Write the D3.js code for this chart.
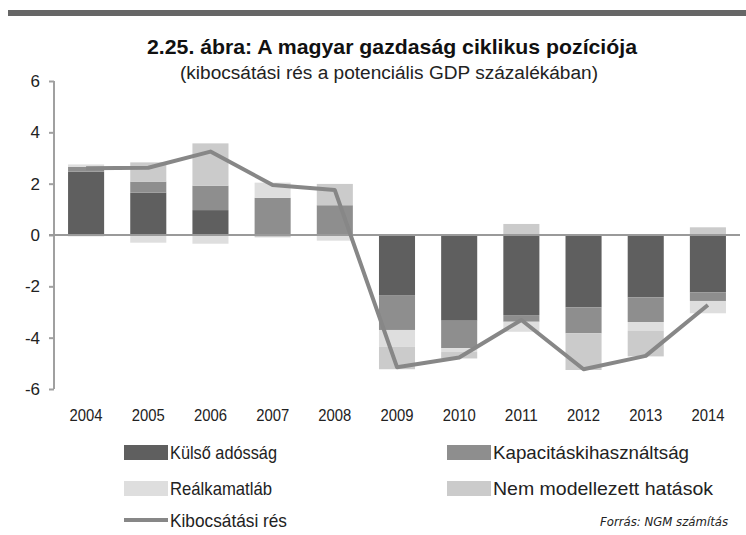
<!DOCTYPE html>
<html>
<head>
<meta charset="utf-8">
<script src="https://cdn.jsdelivr.net/npm/d3@7"></script>
<style>
  html, body { margin: 0; padding: 0; background: #fff; }
  svg { display: block; font-family: "Liberation Sans", Arial, sans-serif; }
</style>
</head>
<body>
<svg id="chart" width="746" height="535"></svg>
<script>
const years = ["2004","2005","2006","2007","2008","2009","2010","2011","2012","2013","2014"];
const kulsoAdossag   = [2.47, 1.65, 0.97, 0.00, 0.00, -2.34, -3.34, -3.12, -2.82, -2.43, -2.23];
const kapacitas      = [0.18, 0.43, 0.95, 1.45, 1.16, -1.36, -1.07, -0.26, -1.01, -0.96, -0.34];
const realkamat      = [0.10, -0.30, -0.34, 0.59, -0.22, -0.65, -0.15, -0.39, 0.00, -0.34, -0.48];
const nemModellezett = [-0.05, 0.75, 1.65, -0.09, 0.83, -0.88, -0.25, 0.43, -1.43, -1.00, 0.30];
const kibocsatasiRes = [2.60, 2.62, 3.25, 1.95, 1.75, -5.15, -4.77, -3.31, -5.23, -4.71, -2.73];
const yTicks = [6, 4, 2, 0, -2, -4, -6];

const seriesNames = ["Külső adósság", "Kapacitáskihasználtság", "Reálkamatláb", "Nem modellezett hatások"];
const seriesValues = [kulsoAdossag, kapacitas, realkamat, nemModellezett];
const seriesColors = ["#5f5f5f", "#8e8e8e", "#dedede", "#cbcbcb"];
const lineName = "Kibocsátási rés";
const lineColor = "#878787";

const svg = d3.select("#chart");

// top rule
svg.append("rect").attr("x", 8).attr("y", 10).attr("width", 738).attr("height", 6).attr("fill", "#666");

// titles
svg.append("text").attr("x", 392).attr("y", 54).attr("text-anchor", "middle")
  .attr("font-weight", "bold").attr("font-size", 21).attr("fill", "#111")
  .attr("textLength", 490).attr("lengthAdjust", "spacingAndGlyphs")
  .text("2.25. ábra: A magyar gazdaság ciklikus pozíciója");
svg.append("text").attr("x", 389).attr("y", 79).attr("text-anchor", "middle")
  .attr("font-size", 18).attr("fill", "#222")
  .attr("textLength", 418).attr("lengthAdjust", "spacingAndGlyphs")
  .text("(kibocsátási rés a potenciális GDP százalékában)");

const x = d3.scaleBand().domain(years).range([55, 739]).paddingInner(0.42).paddingOuter(0.21);
const y = d3.scaleLinear().domain([-6, 6]).range([389, 81]);

const rows = years.map((yr, i) => {
  const r = { year: yr };
  seriesNames.forEach((n, k) => r[n] = seriesValues[k][i]);
  return r;
});
const stack = d3.stack().keys(seriesNames).offset(d3.stackOffsetDiverging);
const stacked = stack(rows);

const gBars = svg.append("g");
stacked.forEach((layer, k) => {
  gBars.selectAll(null).data(layer).enter().append("rect")
    .attr("x", d => x(d.data.year))
    .attr("width", x.bandwidth())
    .attr("y", d => y(Math.max(d[0], d[1])))
    .attr("height", d => Math.abs(y(d[0]) - y(d[1])))
    .attr("fill", seriesColors[k]);
});

// y axis
const yAxis = d3.axisLeft(y).tickValues(yTicks).tickSize(5).tickPadding(9).tickFormat(d3.format("d"));
const gy = svg.append("g").attr("transform", "translate(54,0)").call(yAxis);
gy.select(".domain").attr("stroke", "#a0a0a0").attr("stroke-width", 2).attr("d", "M0,81V389");
gy.selectAll(".tick line").attr("stroke", "#a0a0a0").attr("stroke-width", 2);
gy.selectAll(".tick text").attr("font-size", 17).attr("fill", "#222")
  .attr("font-family", "Liberation Sans, Arial, sans-serif");
gy.selectAll(".tick text").text(d => d < 0 ? "-" + Math.abs(d) : d);

// zero line
svg.append("line").attr("x1", 49).attr("x2", 740).attr("y1", y(0)).attr("y2", y(0))
  .attr("stroke", "#9a9a9a").attr("stroke-width", 2);

// x axis labels
const xAxis = d3.axisBottom(x).tickSize(0).tickPadding(0);
const gx = svg.append("g").attr("transform", "translate(0,409)").call(xAxis);
gx.select(".domain").remove();
gx.selectAll(".tick text").attr("font-size", 17).attr("fill", "#222")
  .attr("font-family", "Liberation Sans, Arial, sans-serif")
  .attr("textLength", 33).attr("lengthAdjust", "spacingAndGlyphs");

// line
const line = d3.line().x((d, i) => x(years[i]) + x.bandwidth() / 2).y(d => y(d));
svg.append("path").datum(kibocsatasiRes).attr("d", line)
  .attr("fill", "none").attr("stroke", lineColor).attr("stroke-width", 4).attr("stroke-linejoin", "round");

// legend
const legendItems = [
  { name: seriesNames[0], color: seriesColors[0], x: 124, y: 445, w: 107 },
  { name: seriesNames[1], color: seriesColors[1], x: 447, y: 445, w: 196 },
  { name: seriesNames[2], color: seriesColors[2], x: 124, y: 481, w: 102 },
  { name: seriesNames[3], color: seriesColors[3], x: 447, y: 481, w: 220 }
];
const gl = svg.append("g");
legendItems.forEach(it => {
  gl.append("rect").attr("x", it.x).attr("y", it.y).attr("width", 44).attr("height", 15).attr("fill", it.color);
  gl.append("text").attr("x", it.x + 46).attr("y", it.y + 14).attr("font-size", 19).attr("fill", "#222")
    .attr("textLength", it.w).attr("lengthAdjust", "spacingAndGlyphs").text(it.name);
});
gl.append("line").attr("x1", 124).attr("x2", 168).attr("y1", 520).attr("y2", 520)
  .attr("stroke", lineColor).attr("stroke-width", 4);
gl.append("text").attr("x", 170).attr("y", 527).attr("font-size", 19).attr("fill", "#222")
  .attr("textLength", 117).attr("lengthAdjust", "spacingAndGlyphs").text(lineName);

svg.append("text").attr("x", 728).attr("y", 526).attr("text-anchor", "end")
  .attr("font-size", 13).attr("font-style", "italic").attr("fill", "#222")
  .attr("font-family", "Liberation Sans Narrow, DejaVu Sans Condensed, Liberation Sans, sans-serif")
  .text("Forrás: NGM számítás");
</script>
</body>
</html>
